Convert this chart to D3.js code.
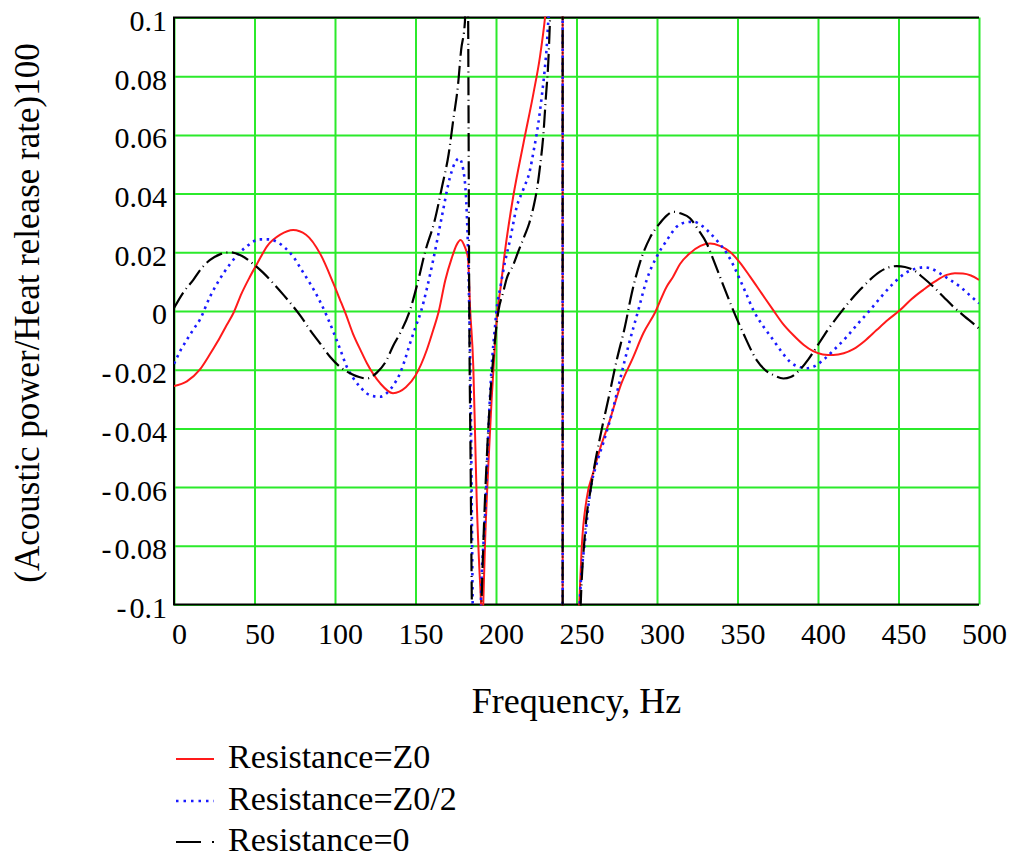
<!DOCTYPE html>
<html>
<head>
<meta charset="utf-8">
<script src="https://cdn.jsdelivr.net/npm/d3@7"></script>
<style>
  body { margin: 0; background: #fff; }
  svg { display: block; }
</style>
</head>
<body>
<svg id="chart" width="1016" height="861" font-family="Liberation Serif"></svg>
<script>
// Axis ticks
const freqTicks = [0, 50, 100, 150, 200, 250, 300, 350, 400, 450, 500];
const valueTicks = [0.1, 0.08, 0.06, 0.04, 0.02, 0, -0.02, -0.04, -0.06, -0.08, -0.1];

// Labels
const xTitle = "Frequency, Hz";
const yTitle = "(Acoustic power/Heat release rate)100";
const seriesNames = ["Resistance=Z0", "Resistance=Z0/2", "Resistance=0"];

// [frequency Hz, acoustic power / heat release rate]
const resistanceZ0 = [
  [0,-0.0256],[8,-0.024],[16,-0.020],[22,-0.0150],[27,-0.0105],[32,-0.0055],[37,-0.0006],
  [42,0.006],[47,0.0115],[52,0.0165],[58,0.0222],[66,0.026],[74,0.0276],[82,0.026],
  [91,0.0193],[99,0.0094],[103,0.0040],[107,-0.0015],[111,-0.0075],[116,-0.0135],[120,-0.018],
  [128,-0.0246],[136,-0.028],[144,-0.026],[150,-0.022],[157,-0.0133],[161,-0.0065],[164.5,0.0],
  [168.5,0.0105],[172.5,0.018],[175.5,0.0225],[178,0.0242],[180.5,0.022],[182.6,0.018],
  [183.9,0.001],[185.9,-0.019],[187,-0.042],[188,-0.064],[189.6,-0.087],[190.7,-0.0995],
  [191.4,-0.112],[192.1,-0.0995],[193.2,-0.079],[195.2,-0.053],[197.3,-0.030],[199.4,-0.011],
  [201.2,0.0015],[202.5,0.0065],[205.6,0.0205],[210.7,0.039],[217,0.057],[223.2,0.074],
  [227.3,0.0866],[230.4,0.0997],[233,0.115],[236,0.14],[238.5,0.2],[240.3,0.4],[241.3,4],
  [241.5,-4],[243,-0.6],[246,-0.28],[249,-0.15],[251.7,-0.1],[253.2,-0.081],[256.3,-0.064],
  [260.4,-0.055],[264.6,-0.047],[270.8,-0.037],[277,-0.026],[285.3,-0.0156],[291.5,-0.0076],
  [298.8,-0.0005],[306,0.0083],[310,0.0117],[314.3,0.016],[320.5,0.0197],[327,0.0222],
  [333,0.023],[339,0.0222],[345.3,0.0202],[351.5,0.0165],[357.8,0.0117],[365,0.006],
  [372.2,0.0003],[378,-0.0042],[384.6,-0.0082],[391,-0.0115],[397,-0.0137],[403,-0.0148],
  [409.5,-0.015],[416,-0.0144],[422,-0.013],[429,-0.0102],[436.4,-0.0065],[443.5,-0.003],
  [451,0.0003],[458,0.004],[465.4,0.0072],[472.5,0.010],[480,0.0123],[485,0.0129],
  [490,0.0128],[495,0.0121],[500,0.0106]
];

const resistanceHalfZ0 = [
  [0,-0.018],[4,-0.0135],[8,-0.0098],[12,-0.0063],[16,-0.003],[22.4,0.0049],[28,0.0105],
  [34.8,0.016],[40,0.0195],[45.2,0.022],[49,0.0236],[53.4,0.0244],[58.5,0.0244],[63.8,0.0236],
  [69,0.0215],[74.1,0.0185],[79,0.0142],[84.5,0.0094],[90,0.004],[95,-0.0018],[100,-0.0085],
  [103.5,-0.0135],[107.3,-0.019],[111.5,-0.023],[115.5,-0.0258],[119.5,-0.028],[123.8,-0.029],
  [128,-0.0292],[132.1,-0.028],[136,-0.0255],[140.4,-0.0212],[143.5,-0.0165],[146.6,-0.011],
  [150,-0.0055],[153.5,0.0],[157,0.0075],[161,0.0174],[166.3,0.032],[171.4,0.0455],
  [174.5,0.0505],[177.2,0.052],[179.7,0.048],[181.8,0.034],[182.8,0.017],[183.4,0.0],
  [184.3,-0.030],[184.9,-0.064],[185.5,-0.0995],[186.5,-0.16],[187.8,-0.2],[189.3,-0.16],
  [190.6,-0.1],[193.2,-0.070],[195.2,-0.0417],[197.3,-0.019],[199.4,-0.0053],[200.8,0.0025],
  [202.5,0.0075],[205.5,0.0165],[208.7,0.0242],[212.9,0.0355],[217,0.0415],[221.1,0.048],
  [223.2,0.054],[226.3,0.064],[228.4,0.073],[230.4,0.083],[231.5,0.090],[232.5,0.099],
  [234.5,0.115],[237,0.15],[239,0.22],[240.5,0.45],[241.3,4],[241.5,-4],[243,-0.7],
  [246,-0.32],[249,-0.16],[252,-0.1],[255.3,-0.078],[258.4,-0.062],[262.5,-0.052],
  [266.6,-0.045],[271.9,-0.035],[277,-0.0235],[282.2,-0.012],[288.4,0.0003],[293.6,0.0106],
  [299.8,0.0185],[306,0.024],[312.2,0.0287],[318,0.0302],[322.6,0.0304],[328,0.029],
  [333,0.0265],[338,0.0235],[343.3,0.0197],[347.5,0.0155],[351.6,0.0106],[355.7,0.0055],
  [359.8,0.0003],[366,-0.0052],[372.2,-0.0099],[377.5,-0.014],[382.6,-0.0173],[388,-0.019],
  [393,-0.0195],[398,-0.0188],[403.3,-0.0167],[410,-0.0132],[417.8,-0.0088],[425,-0.0042],
  [432.3,0.0003],[439.5,0.005],[446.8,0.0094],[454,0.0128],[461.3,0.0145],[466,0.0149],
  [470,0.0145],[475.8,0.0128],[482,0.0106],[488.2,0.0083],[494,0.0055],[500,0.0026]
];

const resistanceZero = [
  [0,0.001],[6,0.0065],[12,0.0106],[17,0.0145],[22.4,0.0174],[28.5,0.0193],[34.8,0.020],
  [42,0.0188],[49.3,0.016],[55.5,0.013],[61.7,0.0094],[68,0.0055],[74.1,0.0015],[79,-0.002],
  [84.5,-0.0065],[90.7,-0.011],[96.9,-0.0156],[103,-0.019],[109.3,-0.0212],[115,-0.0225],
  [119.7,-0.023],[126,-0.021],[132.1,-0.0167],[136,-0.012],[140.4,-0.0076],[146.6,0.0003],
  [151.5,0.010],[155.9,0.020],[161.9,0.0308],[166.5,0.0424],[170.6,0.0535],[173.5,0.0653],
  [176.4,0.077],[178.3,0.0887],[180.7,0.0986],[181.4,0.13],[181.9,0.15],[182.3,0.125],
  [182.7,0.1],[183.4,0.0],[184.2,-0.05],[185.0,-0.1],[186.2,-0.16],[187.6,-0.19],
  [189.3,-0.15],[191.0,-0.1],[192.1,-0.08],[194.2,-0.051],[196.3,-0.030],[198.8,-0.013],
  [201.5,0.0],[204.5,0.0065],[206.6,0.011],[210.7,0.0157],[214,0.0205],[218,0.026],
  [220.7,0.030],[224.2,0.0378],[225.3,0.041],[227.3,0.049],[229.4,0.060],[231,0.073],
  [232.5,0.085],[233.6,0.1],[235.5,0.13],[237.5,0.18],[239.5,0.3],[240.7,0.6],[241.3,4],
  [241.5,-4],[243,-0.9],[246,-0.4],[249.5,-0.17],[252.6,-0.1],[255.3,-0.0757],
  [259.4,-0.0587],[265.6,-0.0405],[269.8,-0.030],[275,-0.0167],[280.1,-0.0053],
  [284.3,0.006],[289.4,0.0165],[295.7,0.025],[301.9,0.030],[306,0.0325],[310.1,0.0338],
  [315,0.0332],[320.5,0.0316],[325.5,0.0278],[330.9,0.023],[335,0.0175],[339.1,0.0117],
  [346.4,0.0015],[353.6,-0.0076],[361.9,-0.0167],[367,-0.020],[372.2,-0.0218],
  [378.5,-0.023],[383,-0.0225],[388.8,-0.020],[394,-0.0165],[399.2,-0.0122],[406,-0.0065],
  [413.7,-0.0008],[420,0.0035],[426.1,0.0072],[432,0.0105],[438.5,0.0134],[443.5,0.0148],
  [448.9,0.0153],[454,0.015],[459.2,0.014],[465,0.0115],[471.6,0.0083],[478,0.0048],
  [484,0.0015],[491,-0.0018],[498.6,-0.0053],[500,-0.006]
];

const SERIF = "Liberation Serif";
const GRID = "#2bea2b";

const svg = d3.select("#chart");
const plotLeft = 174, plotRight = 979, plotTop = 17.5, plotBottom = 604.5;

const x = d3.scaleLinear().domain([0, 500]).range([plotLeft, plotRight]);
const y = d3.scaleLinear().domain([-0.1, 0.1]).range([plotBottom, plotTop]);

// Vertical grid lines with frequency labels
const xAxis = d3.axisBottom(x)
  .tickValues(freqTicks)
  .tickSize(-(plotBottom - plotTop))
  .tickPadding(18)
  .tickFormat(d3.format("d"));
const gx = svg.append("g")
  .attr("transform", `translate(0,${plotBottom})`)
  .call(xAxis)
  .attr("font-family", SERIF)
  .attr("font-size", 30);
gx.select(".domain").remove();
gx.selectAll(".tick line").attr("stroke", GRID).attr("stroke-width", 2);
gx.selectAll(".tick text")
  .attr("x", 5).attr("fill", "#000")
  .attr("font-family", SERIF).attr("font-size", 30);

// Horizontal grid lines with value labels
const yAxis = d3.axisLeft(y)
  .tickValues(valueTicks)
  .tickSize(-(plotRight - plotLeft))
  .tickPadding(7)
  .tickFormat(d => d === 0 ? "0" : String(+Math.abs(d).toFixed(2)));
const gy = svg.append("g")
  .attr("transform", `translate(${plotLeft},0)`)
  .call(yAxis)
  .attr("font-family", SERIF)
  .attr("font-size", 30);
gy.select(".domain").remove();
gy.selectAll(".tick line").attr("stroke", GRID).attr("stroke-width", 2);
gy.selectAll(".tick text")
  .attr("fill", "#000").attr("dy", "0.43em")
  .attr("font-family", SERIF).attr("font-size", 30)
  .each(function (d) {
    if (d < 0) {
      const t = d3.select(this);
      const num = t.text();
      t.text(null);
      t.append("tspan").text("-");
      t.append("tspan").attr("dx", 3).text(num);
    }
  });

// Plot frame (top, left, bottom)
svg.append("path")
  .attr("d", `M${plotRight},${plotTop}H${plotLeft}V${plotBottom}H${plotRight}`)
  .attr("fill", "none").attr("stroke", "#000").attr("stroke-width", 2);

// Curves, clipped to the plotting area
svg.append("clipPath").attr("id", "plot-clip")
  .append("rect").attr("x", plotLeft).attr("y", plotTop - 1)
  .attr("width", plotRight - plotLeft).attr("height", plotBottom - plotTop + 2);

const line = d3.line()
  .x(d => x(d[0]))
  .y(d => y(d[1]))
  .curve(d3.curveMonotoneX);

const series = [
  { data: resistanceZ0,      color: "#ff1a1a", width: 2,   dash: null,           legendDash: null },
  { data: resistanceHalfZ0,  color: "#1a1aff", width: 2.6, dash: "2.5,4.5",      legendDash: "2.5,5" },
  { data: resistanceZero,    color: "#000000", width: 2.2, dash: "18,4.5,1,4.5", legendDash: "25,11,2,20" }
];

const plot = svg.append("g").attr("clip-path", "url(#plot-clip)");
series.forEach(s => {
  plot.append("path")
    .datum(s.data)
    .attr("d", line)
    .attr("fill", "none")
    .attr("stroke", s.color)
    .attr("stroke-width", s.width)
    .attr("stroke-dasharray", s.dash);
});

// Axis titles
svg.append("text")
  .attr("x", 576.5).attr("y", 713)
  .attr("text-anchor", "middle")
  .attr("font-family", SERIF).attr("font-size", 36)
  .text(xTitle);

svg.append("text")
  .attr("transform", "translate(39,313) rotate(-90)")
  .attr("text-anchor", "middle")
  .attr("font-family", SERIF).attr("font-size", 35)
  .text(yTitle);

// Legend
const legendRows = [759, 801, 842];
series.forEach((s, i) => {
  const ly = legendRows[i];
  svg.append("line")
    .attr("x1", 176).attr("x2", 214).attr("y1", ly).attr("y2", ly)
    .attr("stroke", s.color).attr("stroke-width", s.width)
    .attr("stroke-dasharray", s.legendDash);
  svg.append("text")
    .attr("x", 228).attr("y", ly + 9)
    .attr("font-family", SERIF).attr("font-size", 34)
    .text(seriesNames[i]);
});
</script>
</body>
</html>
